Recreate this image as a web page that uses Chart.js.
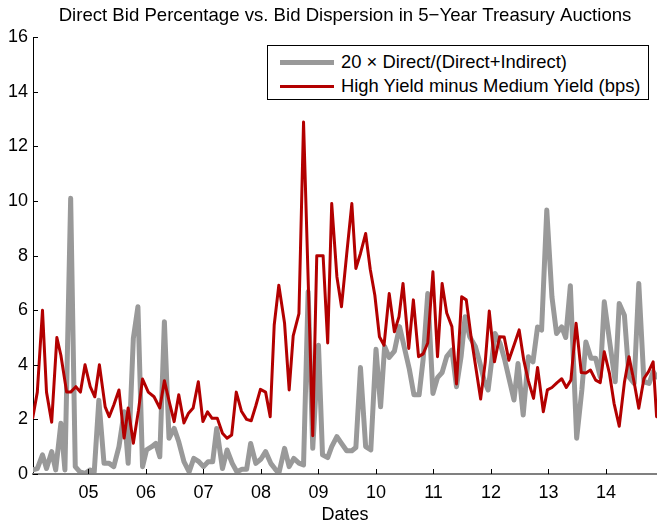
<!DOCTYPE html>
<html>
<head>
<meta charset="utf-8">
<script src="https://cdn.jsdelivr.net/npm/chart.js@4.4.1/dist/chart.umd.min.js"></script>
<style>
  body { margin: 0; background: #fff; }
  #wrap { position: relative; width: 657px; height: 521px; }
  #legend {
    position: absolute; left: 267px; top: 45px; width: 382px; height: 55px;
    box-sizing: border-box; border: 1px solid #000; background: #fff;
    padding: 4px 0 0 12px; color: #000;
    font: 18.4px 'Liberation Sans', Arial, sans-serif;
  }
  .row { display: flex; align-items: center; height: 24px; white-space: nowrap; }
  .swatch { display: inline-block; width: 54px; margin-right: 7px; }
</style>
</head>
<body>
<div id="wrap">
  <canvas id="bidChart" width="657" height="521"></canvas>
  <div id="legend"></div>
</div>
<script>
// auction dates as decimal years
const redYears = [
  2004.03, 2004.11, 2004.20, 2004.27, 2004.36, 2004.45, 2004.52, 2004.62, 2004.69, 2004.78,
  2004.86, 2004.94, 2005.03, 2005.11, 2005.19, 2005.29, 2005.36, 2005.44, 2005.53, 2005.62,
  2005.69, 2005.78, 2005.87, 2005.94, 2006.04, 2006.14, 2006.24, 2006.32, 2006.41, 2006.49,
  2006.57, 2006.66, 2006.74, 2006.82, 2006.91, 2006.99, 2007.07, 2007.15, 2007.24, 2007.33,
  2007.41, 2007.49, 2007.57, 2007.66, 2007.75, 2007.83, 2007.91, 2007.99, 2008.08, 2008.16,
  2008.23, 2008.31, 2008.41, 2008.49, 2008.56, 2008.66, 2008.74, 2008.90, 2008.97, 2009.08,
  2009.16, 2009.23, 2009.32, 2009.40, 2009.49, 2009.58, 2009.65, 2009.73, 2009.82, 2009.90,
  2009.98, 2010.06, 2010.14, 2010.23, 2010.32, 2010.40, 2010.47, 2010.57, 2010.65, 2010.74,
  2010.82, 2010.90, 2010.99, 2011.07, 2011.15, 2011.23, 2011.32, 2011.40, 2011.49, 2011.57,
  2011.65, 2011.74, 2011.82, 2011.90, 2011.97, 2012.06, 2012.15, 2012.23, 2012.31, 2012.40,
  2012.49, 2012.57, 2012.65, 2012.74, 2012.81, 2012.91, 2012.98, 2013.06, 2013.15, 2013.23,
  2013.31, 2013.39, 2013.48, 2013.57, 2013.65, 2013.73, 2013.82, 2013.90, 2013.97, 2014.06,
  2014.14, 2014.23, 2014.32, 2014.40, 2014.49, 2014.57, 2014.66, 2014.74, 2014.82, 2014.88
];
const redValues = [
  2.05, 3.0, 6.0, 3.0, 1.9, 5.0, 4.35, 3.0, 3.0, 3.2,
  3.0, 4.0, 3.2, 2.83, 4.0, 2.46, 2.1, 2.53, 3.08, 1.32,
  2.42, 1.13, 2.34, 3.48, 3.0, 2.83, 2.42, 3.42, 2.6, 1.92,
  2.9, 1.87, 2.23, 2.42, 3.38, 1.92, 2.28, 2.04, 2.04, 1.49,
  1.31, 1.43, 3.0, 2.3, 2.0, 1.95, 2.5, 3.1, 3.0, 2.1,
  5.46, 6.92, 5.52, 3.08, 5.06, 5.88, 12.9, 1.4, 8.0, 8.0,
  4.8, 9.91, 7.23, 6.13, 8.05, 9.91, 7.53, 8.08, 8.81, 7.5,
  6.55, 5.03, 4.72, 6.61, 5.21, 5.76, 6.98, 4.6, 6.38, 4.3,
  4.4, 4.8, 7.41, 4.3, 6.98, 5.9, 5.4, 3.3, 6.49, 6.38,
  5.09, 3.85, 2.75, 4.1, 5.97, 4.11, 5.03, 5.02, 4.17, 4.72,
  5.28, 4.17, 3.41, 2.77, 3.9, 2.28, 3.08, 3.17, 3.35, 3.49,
  3.17, 3.44, 5.52, 3.72, 3.7, 3.81, 3.44, 3.35, 4.48, 3.69,
  2.59, 1.75, 3.35, 4.3, 3.35, 2.41, 3.5, 3.75, 4.11, 2.1
];

const grayYears = [
  2004.03, 2004.11, 2004.20, 2004.27, 2004.36, 2004.43, 2004.52, 2004.59, 2004.69, 2004.77,
  2004.85, 2004.94, 2005.03, 2005.10, 2005.18, 2005.27, 2005.36, 2005.44, 2005.53, 2005.62,
  2005.69, 2005.78, 2005.86, 2005.94, 2006.01, 2006.10, 2006.17, 2006.24, 2006.32, 2006.40,
  2006.49, 2006.57, 2006.66, 2006.75, 2006.83, 2006.92, 2007.00, 2007.08, 2007.16, 2007.23,
  2007.33, 2007.41, 2007.50, 2007.58, 2007.67, 2007.75, 2007.82, 2007.91, 2008.00, 2008.08,
  2008.17, 2008.24, 2008.31, 2008.41, 2008.49, 2008.57, 2008.66, 2008.74, 2008.82, 2008.90,
  2009.00, 2009.07, 2009.16, 2009.23, 2009.32, 2009.40, 2009.49, 2009.58, 2009.65, 2009.73,
  2009.82, 2009.91, 2010.00, 2010.08, 2010.15, 2010.23, 2010.32, 2010.41, 2010.50, 2010.58,
  2010.66, 2010.75, 2010.82, 2010.90, 2010.99, 2011.07, 2011.15, 2011.23, 2011.32, 2011.40,
  2011.48, 2011.55, 2011.63, 2011.73, 2011.81, 2011.88, 2011.95, 2012.07, 2012.16, 2012.24,
  2012.32, 2012.40, 2012.47, 2012.56, 2012.65, 2012.73, 2012.81, 2012.88, 2012.97, 2013.06,
  2013.14, 2013.23, 2013.30, 2013.38, 2013.49, 2013.58, 2013.65, 2013.74, 2013.82, 2013.90,
  2013.97, 2014.06, 2014.16, 2014.23, 2014.32, 2014.40, 2014.49, 2014.57, 2014.66, 2014.75,
  2014.82, 2014.88
];
const grayValues = [
  0.15, 0.2, 0.7, 0.2, 0.82, 0.15, 1.86, 0.15, 10.1, 0.27,
  0.08, 0.02, 0.15, 0.08, 2.7, 0.39, 0.39, 0.27, 1.0, 2.28,
  0.39, 4.97, 6.13, 0.27, 0.88, 1.0, 1.12, 0.63, 5.58, 1.31,
  1.67, 1.18, 0.45, 0.08, 0.57, 0.45, 0.27, 0.45, 0.45, 1.67,
  0.2, 0.88, 0.39, 0.08, 0.17, 0.17, 1.12, 0.39, 0.55, 0.82,
  0.39, 0.2, 0.02, 0.94, 0.27, 0.57, 0.4, 0.33, 6.68, 0.94,
  4.72, 0.7, 0.6, 1.0, 1.37, 1.12, 0.85, 0.85, 0.97, 3.9,
  1.0, 0.88, 4.57, 2.46, 4.67, 4.27, 4.5, 5.4, 4.57, 3.84,
  2.9, 2.9, 4.2, 6.61, 2.95, 3.53, 3.72, 4.3, 4.54, 3.2,
  4.3, 5.76, 5.03, 4.66, 4.05, 3.44, 3.08, 5.15, 4.78, 4.17,
  3.44, 2.71, 4.05, 2.16, 4.3, 4.11, 5.39, 5.27, 9.67, 6.49,
  5.15, 5.39, 5.0, 6.9, 1.31, 3.08, 4.84, 4.24, 4.24, 3.56,
  6.31, 4.9, 3.38, 6.25, 5.82, 3.56, 3.32, 6.98, 3.38, 3.32,
  3.75, 3.56
];

const yearTicks = [2005, 2006, 2007, 2008, 2009, 2010, 2011, 2012, 2013, 2014];
const yTicks = [0, 2, 4, 6, 8, 10, 12, 14, 16];

const FONT = { family: "'Liberation Sans', Arial, sans-serif", size: 18, weight: 'normal' };

const toPoints = (xs, ys) => xs.map((x, i) => ({ x: x, y: ys[i] }));

// matlab style tick marks pointing into the axes
const innerTicks = {
  id: 'innerTicks',
  afterDraw(chart) {
    const { ctx, chartArea, scales } = chart;
    ctx.save();
    ctx.strokeStyle = '#000';
    ctx.lineWidth = 1;
    ctx.beginPath();
    scales.y.ticks.forEach(t => {
      const y = Math.round(scales.y.getPixelForValue(t.value)) + 0.5;
      ctx.moveTo(chartArea.left, y);
      ctx.lineTo(chartArea.left + 5, y);
    });
    scales.x.ticks.forEach(t => {
      const x = Math.round(scales.x.getPixelForValue(t.value)) + 0.5;
      ctx.moveTo(x, chartArea.bottom);
      ctx.lineTo(x, chartArea.bottom - 5);
    });
    ctx.stroke();
    ctx.restore();
  }
};

const ctx = document.getElementById('bidChart').getContext('2d');
const chart = new Chart(ctx, {
  type: 'line',
  data: {
    datasets: [
      {
        label: '20 \u00d7 Direct/(Direct+Indirect)',
        data: toPoints(grayYears, grayValues),
        borderColor: '#999999',
        borderWidth: 5,
        order: 1
      },
      {
        label: 'High Yield minus Medium Yield (bps)',
        data: toPoints(redYears, redValues),
        borderColor: '#b30000',
        borderWidth: 3,
        order: 0
      }
    ]
  },
  options: {
    responsive: false,
    animation: false,
    devicePixelRatio: 1,
    elements: {
      point: { radius: 0 },
      line: { tension: 0, fill: false, borderJoinStyle: 'round', borderCapStyle: 'round' }
    },
    layout: { padding: 0 },
    scales: {
      x: {
        type: 'linear',
        min: 2004.035,
        max: 2014.887,
        afterBuildTicks: s => { s.ticks = yearTicks.map(v => ({ value: v })); },
        afterFit: s => { s.height = 47; },
        grid: { drawOnChartArea: false, drawTicks: false },
        border: { color: '#808080', width: 2, z: 1 },
        ticks: {
          font: FONT, color: '#000', padding: 8, maxRotation: 0, autoSkip: false,
          callback: v => String(Math.round(v) % 100).padStart(2, '0')
        },
        title: {
          display: true, text: 'Dates', color: '#000',
          font: Object.assign({}, FONT, { lineHeight: 1 }),
          padding: { top: 0, bottom: -3 }
        }
      },
      y: {
        min: 0,
        max: 16,
        afterBuildTicks: s => { s.ticks = yTicks.map(v => ({ value: v })); },
        afterFit: s => { s.width = 33; },
        grid: { drawOnChartArea: false, drawTicks: false },
        border: { color: '#000', width: 1 },
        ticks: { font: FONT, color: '#000', padding: 5 }
      }
    },
    plugins: {
      legend: { display: false },
      tooltip: { enabled: false },
      title: {
        display: true,
        fullSize: false,
        text: 'Direct Bid Percentage vs. Bid Dispersion in 5\u2212Year Treasury Auctions',
        font: Object.assign({}, FONT, { size: 18.6 }),
        color: '#000',
        padding: { top: 5, bottom: 10 }
      }
    }
  },
  plugins: [innerTicks]
});

// legend box drawn inside the axes, like the original
const legendEl = document.getElementById('legend');
chart.data.datasets.forEach(ds => {
  const row = document.createElement('div');
  row.className = 'row';
  const sw = document.createElement('span');
  sw.className = 'swatch';
  sw.style.borderTop = ds.borderWidth + 'px solid ' + ds.borderColor;
  const txt = document.createElement('span');
  txt.textContent = ds.label;
  row.append(sw, txt);
  legendEl.append(row);
});
</script>
</body>
</html>
